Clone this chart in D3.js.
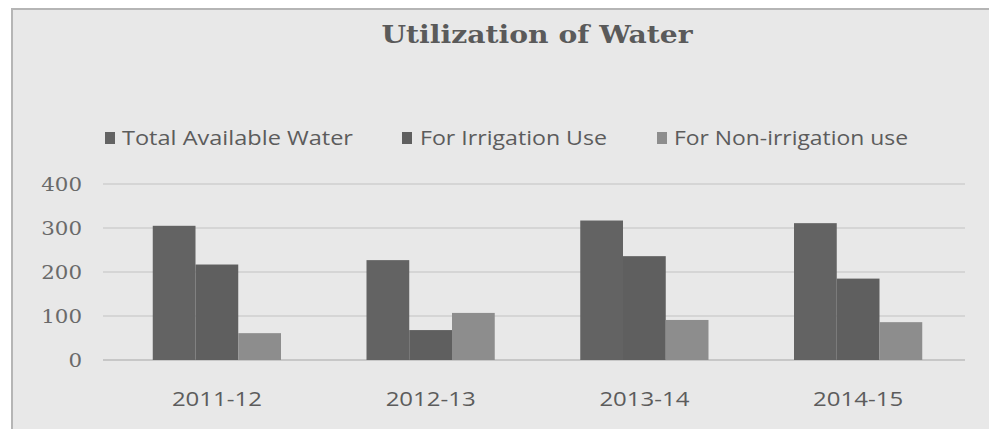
<!DOCTYPE html>
<html>
<head>
<meta charset="utf-8">
<script src="https://cdn.jsdelivr.net/npm/d3@7"></script>
<style>
  body { margin: 0; background: #fff; }
  svg { display: block; }
</style>
</head>
<body>
<svg width="989" height="429"></svg>
<script>
const years = ['2011-12', '2012-13', '2013-14', '2014-15'];
const seriesNames = ['Total Available Water', 'For Irrigation Use', 'For Non-irrigation use'];
const totalWater = [305, 227, 317, 311];
const irrigationUse = [217, 68, 236, 185];
const nonIrrigationUse = [61, 107, 91, 86];
const yTicks = [0, 100, 200, 300, 400];

const seriesValues = [totalWater, irrigationUse, nonIrrigationUse];
const colors = ['#636363', '#5f5f5f', '#8d8d8d'];

const svg = d3.select('svg');

// chart frame
svg.append('rect')
  .attr('x', 12).attr('y', 9)
  .attr('width', 990).attr('height', 430)
  .attr('fill', '#e8e8e8')
  .attr('stroke', '#b5b5b5')
  .attr('stroke-width', 2);

const x0 = d3.scaleBand()
  .domain(years)
  .range([110, 965])
  .paddingInner(0.4)
  .paddingOuter(0.2);

const x1 = d3.scaleBand()
  .domain(seriesNames)
  .range([0, x0.bandwidth()]);

const y = d3.scaleLinear()
  .domain([0, 400])
  .range([360, 184]);

// gridlines
svg.append('g')
  .selectAll('line')
  .data(yTicks)
  .enter()
  .append('line')
  .attr('x1', 103).attr('x2', 965)
  .attr('y1', function(d) { return y(d); })
  .attr('y2', function(d) { return y(d); })
  .attr('stroke', function(d) { return d === 0 ? '#bdbdbd' : '#cfcfcf'; })
  .attr('stroke-width', 1.5);

// y labels
const yAxis = svg.append('g')
  .attr('transform', 'translate(82,0)')
  .call(d3.axisLeft(y).tickValues(yTicks).tickSize(0).tickPadding(0));
yAxis.select('.domain').remove();
yAxis.selectAll('text')
  .attr('font-family', '"DejaVu Serif", serif')
  .attr('font-size', 18)
  .attr('fill', '#6a6a6a')
  .attr('dy', '0.35em')
  .attr('lengthAdjust', 'spacingAndGlyphs')
  .each(function(d) {
    d3.select(this).attr('textLength', String(d).length * 13.6);
  });

// bars
const groups = svg.append('g')
  .selectAll('g')
  .data(years)
  .enter()
  .append('g')
  .attr('transform', function(d) { return `translate(${x0(d)},0)`; });

groups.selectAll('rect')
  .data(function(d, i) {
    return seriesNames.map(function(s, j) { return { s, v: seriesValues[j][i], c: colors[j] }; });
  })
  .enter()
  .append('rect')
  .attr('x', function({s}) { return x1(s); })
  .attr('y', function({v}) { return y(v); })
  .attr('width', x1.bandwidth())
  .attr('height', function({v}) { return y(0) - y(v); })
  .attr('fill', function({c}) { return c; });

// x labels
const xAxis = svg.append('g')
  .attr('transform', 'translate(0,399)')
  .call(d3.axisBottom(x0).tickSize(0).tickPadding(0));
xAxis.select('.domain').remove();
xAxis.selectAll('text')
  .attr('font-family', '"Open Sans", sans-serif')
  .attr('font-size', 20)
  .attr('fill', '#5c5c5c')
  .attr('dy', '0.35em')
  .attr('textLength', 90)
  .attr('lengthAdjust', 'spacingAndGlyphs');

// title
svg.append('text')
  .attr('x', 537).attr('y', 43)
  .attr('text-anchor', 'middle')
  .attr('font-family', '"DejaVu Serif", serif')
  .attr('font-weight', 'bold')
  .attr('font-size', 25)
  .attr('fill', '#5a5a5a')
  .attr('textLength', 311)
  .attr('lengthAdjust', 'spacingAndGlyphs')
  .text('Utilization of Water');

// legend
const legendPos = [
  { sq: 105, tx: 122, w: 231 },
  { sq: 402, tx: 420, w: 187 },
  { sq: 657, tx: 674, w: 234 }
];
const legend = svg.append('g')
  .selectAll('g')
  .data(seriesNames)
  .enter()
  .append('g');

legend.append('rect')
  .attr('x', function(d, i) { return legendPos[i].sq; })
  .attr('y', 132)
  .attr('width', 10).attr('height', 12)
  .attr('fill', function(d, i) { return colors[i]; });

legend.append('text')
  .attr('x', function(d, i) { return legendPos[i].tx; })
  .attr('y', 145)
  .attr('font-family', '"Open Sans", sans-serif')
  .attr('font-size', 20)
  .attr('fill', '#5c5c5c')
  .attr('textLength', function(d, i) { return legendPos[i].w; })
  .attr('lengthAdjust', 'spacingAndGlyphs')
  .text(function(d) { return d; });
</script>
</body>
</html>
